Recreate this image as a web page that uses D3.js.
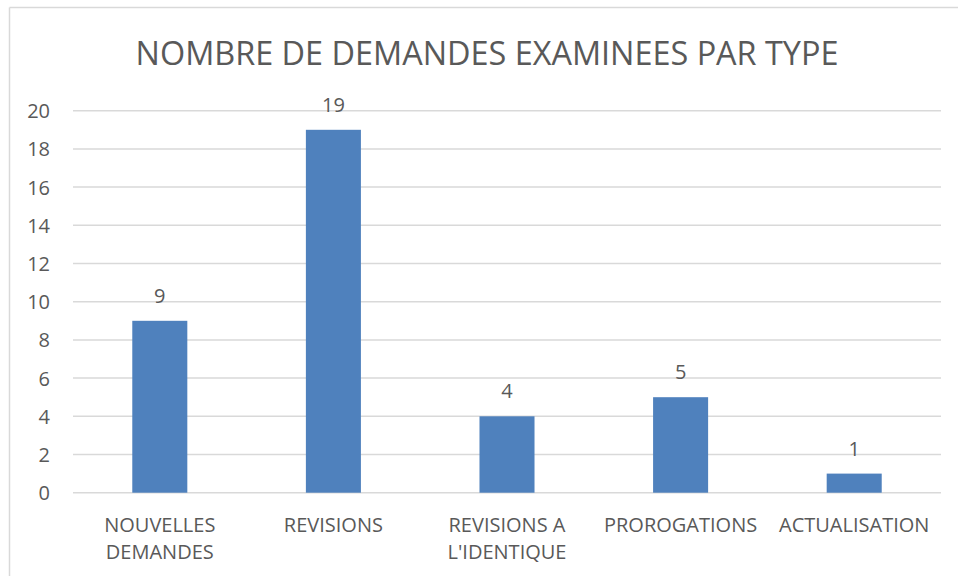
<!DOCTYPE html>
<html>
<head>
<meta charset="utf-8">
<script src="https://cdn.jsdelivr.net/npm/d3@7"></script>
<style>
    body { margin: 0; background: #fff; }
    text { font-family: "Open Sans", sans-serif; fill: #595959; }
</style>
</head>
<body>
<div class="chart"><svg></svg></div>
<script>
// data
var title = "NOMBRE DE DEMANDES EXAMINEES PAR TYPE";
var categories = [
    ["NOUVELLES", "DEMANDES"],
    ["REVISIONS"],
    ["REVISIONS A", "L'IDENTIQUE"],
    ["PROROGATIONS"],
    ["ACTUALISATION"]
];
var values = [9, 19, 4, 5, 1];
var yTicks = [0, 2, 4, 6, 8, 10, 12, 14, 16, 18, 20];

var width = 958, height = 576;
var plot = { left: 73, right: 941, top: 110.7, bottom: 492.7 };

var svg = d3.select(".chart").select("svg")
    .attr("width", width)
    .attr("height", height);

// chart frame (only top and left edges visible)
svg.append("line")
    .attr("x1", 9.5).attr("x2", width)
    .attr("y1", 7.5).attr("y2", 7.5)
    .attr("stroke", "#d9d9d9").attr("stroke-width", 1.5);
svg.append("line")
    .attr("x1", 9.5).attr("x2", 9.5)
    .attr("y1", 7.5).attr("y2", height)
    .attr("stroke", "#d9d9d9").attr("stroke-width", 1.5);

//Scale
var keys = categories.map(function(d) { return d.join(" "); });
var xScale = d3.scaleBand()
    .domain(keys)
    .range([plot.left, plot.right])
    .padding(0);

var yScale = d3.scaleLinear()
    .domain([0, 20])
    .range([plot.bottom, plot.top]);

// gridlines
svg.selectAll(".grid")
    .data(yTicks)
    .enter()
    .append("line")
    .attr("class", "grid")
    .attr("x1", plot.left).attr("x2", plot.right)
    .attr("y1", function(d) { return yScale(d); })
    .attr("y2", function(d) { return yScale(d); })
    .attr("stroke", "#d9d9d9")
    .attr("stroke-width", 1.5);

// y axis labels
let yAxis = d3.axisLeft(yScale)
    .tickValues(yTicks)
    .tickSize(0)
    .tickPadding(0);

var yg = svg.append("g")
    .attr("transform", "translate(50,0)")
    .call(yAxis);
yg.select(".domain").remove();
yg.selectAll("text")
    .attr("fill", null)
    .style("font-size", "20px")
    .style("font-family", "'Open Sans', sans-serif")
    .attr("dy", "0.35em");

// bars
var barW = xScale.bandwidth() * 0.317;
svg.selectAll(".bar")
    .data(values)
    .enter()
    .append("rect")
    .attr("class", "bar")
    .attr("fill", "#4f81bd")
    .attr("x", function(d, i) { return xScale(keys[i]) + (xScale.bandwidth() - barW) / 2; })
    .attr("y", function(d) { return yScale(d); })
    .attr("width", barW)
    .attr("height", function(d) { return yScale(0) - yScale(d); });

// value labels
svg.selectAll(".val")
    .data(values)
    .enter()
    .append("text")
    .attr("class", "val")
    .attr("text-anchor", "middle")
    .style("font-size", "20px")
    .attr("x", function(d, i) { return xScale(keys[i]) + xScale.bandwidth() / 2; })
    .attr("y", function(d) { return yScale(d) - 18; })
    .text(function(d) { return d; });

// category labels
var cats = svg.selectAll(".cat")
    .data(categories)
    .enter()
    .append("text")
    .attr("class", "cat")
    .attr("text-anchor", "middle")
    .style("font-size", "20px")
    .attr("x", function(d, i) { return xScale(keys[i]) + xScale.bandwidth() / 2; })
    .attr("y", 532);
cats.selectAll("tspan")
    .data(function(d) { return d; })
    .enter()
    .append("tspan")
    .attr("x", function() { return d3.select(this.parentNode).attr("x"); })
    .attr("dy", function(d, i) { return i === 0 ? 0 : 27; })
    .text(function(d) { return d; });

// title
svg.append("text")
    .attr("x", 487)
    .attr("y", 65)
    .attr("text-anchor", "middle")
    .style("font-size", "32.4px")
    .text(title);
</script>
</body>
</html>
